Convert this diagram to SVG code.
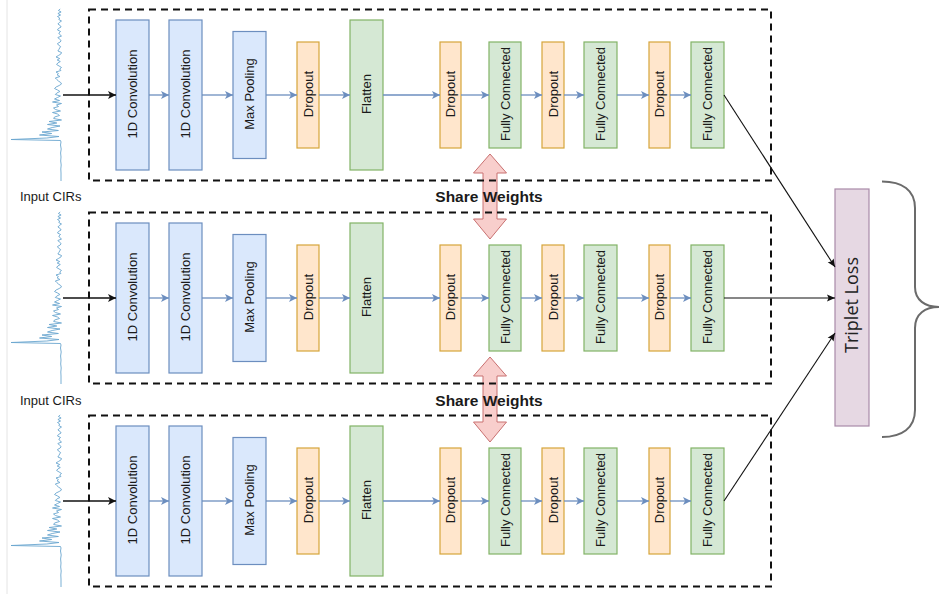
<svg xmlns="http://www.w3.org/2000/svg" xmlns:xlink="http://www.w3.org/1999/xlink" width="940" height="594" viewBox="0 0 940 594">
  <style>
    .blue { fill: #dae8fc; stroke: #6c8ebf; stroke-width: 1.2; }
    .orange { fill: #ffe6cc; stroke: #d6a53a; stroke-width: 1.2; }
    .green { fill: #d5e8d4; stroke: #82b366; stroke-width: 1.2; }
    .lbl { font-family: "Liberation Sans", Arial, sans-serif; font-size: 13px; fill: #1a1a1a; text-anchor: middle; }
    .inlbl { font-family: "Liberation Sans", Arial, sans-serif; font-size: 13px; fill: #1a1a1a; }
    .share { font-family: "Liberation Sans", Arial, sans-serif; font-size: 15.5px; font-weight: bold; fill: #1a1a1a; text-anchor: middle; }
    .frame { fill: none; stroke: #111; stroke-width: 2; stroke-dasharray: 7 5; }
    .flow { stroke: #6c8ebf; stroke-width: 1.3; fill: none; marker-end: url(#blueHead); }
    .feed { stroke: #111; stroke-width: 1.4; fill: none; marker-end: url(#blackHead); }
    .loss { stroke: #111; stroke-width: 1.1; fill: none; marker-end: url(#thinHead); }
    .wave { fill: none; stroke: #6aa6cf; stroke-width: 0.9; stroke-linejoin: round; }
    .shareArrow { fill: #f8cecc; stroke: #c97070; stroke-width: 1; }
  </style>
  <defs>
    <marker id="blueHead" markerUnits="userSpaceOnUse" markerWidth="10" markerHeight="10" refX="9" refY="5" orient="auto">
      <path d="M1,1 L9,5 L1,9 L3,5 z" fill="#6c8ebf"/>
    </marker>
    <marker id="blackHead" markerUnits="userSpaceOnUse" markerWidth="10" markerHeight="10" refX="9" refY="5" orient="auto">
      <path d="M1,1 L9,5 L1,9 L3,5 z" fill="#111"/>
    </marker>
    <marker id="thinHead" markerUnits="userSpaceOnUse" markerWidth="10" markerHeight="10" refX="9" refY="5" orient="auto">
      <path d="M1,1.5 L9,5 L1,8.5 L2.5,5 z" fill="#111"/>
    </marker>
    <!-- channel impulse response trace, y relative to the row centre -->
    <polyline id="cir" class="wave" points="60.2,-86 58.4,-84.5 61.1,-83 57.9,-81.5 60.6,-80 57.5,-78.5 59.7,-77 58.8,-75.5 61.5,-74 59.3,-72.5 57.9,-71 60.2,-69.5 61.1,-68 58.4,-66.5 57.5,-65 60.6,-63.5 58.8,-62 59.7,-60.5 61.5,-59 57.9,-57.5 59.3,-56 61.1,-54.5 60.2,-53 57.5,-51.5 58.4,-50 60.6,-48.5 59.7,-47 58.8,-45.5 57.9,-44 61.5,-42.5 60.9,-41 58.4,-39.5 56,-38 59.7,-36.5 57.2,-35 60.3,-33.5 57.8,-32 56.6,-30.5 59.1,-29 61.5,-27.5 59.7,-26 60.9,-24.5 56,-23 58.4,-21.5 57.2,-20 59.9,-18.5 55.3,-17 56.8,-15.5 58.4,-14 60.7,-12.5 61.5,-11 59.2,-9.5 56.1,-8 54.5,-6.5 57.6,-5 59.9,-3.5 56.8,-2 55.3,-0.5 60.5,1 57.5,2.5 54.5,4 59.5,5.5 52.5,7 61.5,8.5 56.5,10 58.5,11.5 53.5,13 55.5,14.5 60.5,16 52.5,17.5 57.5,19 59.5,20.5 54.5,22 53.7,23.5 61.5,25 49.1,26.5 56.8,28 47.5,29.5 60,31 52.2,32.5 47.5,34 58.4,35.5 42,37 51.7,38.5 39.5,40 59,41.5 46.8,43 11,44.5 60.5,45.5 61,47 60.5,50 61.2,54 60.6,58 61,62 60.7,66 61.2,70 60.8,74 61,78 61,86"/>
  </defs>

  <!-- page edge -->
  <line x1="7" y1="0" x2="7" y2="594" stroke="#e4e4e4" stroke-width="1"/>

  <!-- input traces -->
  <g id="trace-1"><use xlink:href="#cir" href="#cir" transform="translate(0,95)"/></g>
  <g id="trace-2"><use xlink:href="#cir" href="#cir" transform="translate(0,298)"/></g>
  <g id="trace-3"><use xlink:href="#cir" href="#cir" transform="translate(0,501)"/></g>

  <g id="label-input-2"><text class="inlbl" x="20" y="201">Input CIRs</text></g>
  <g id="label-input-3"><text class="inlbl" x="20" y="405">Input CIRs</text></g>

  <!-- weight sharing arrows -->
  <g id="share-1">
    <polygon class="shareArrow" points="490,154 506.5,173 497,173 497,219 506.5,219 490,239 473.5,219 483,219 483,173 473.5,173"/>
  </g>
  <g id="share-2">
    <polygon class="shareArrow" points="490,357 506.5,376 497,376 497,422 506.5,422 490,442 473.5,422 483,422 483,376 473.5,376"/>
  </g>

  <!-- ===== branch 1 ===== -->
  <g id="b1-conv1"><rect class="blue" x="116" y="20" width="33" height="150"/><text class="lbl" transform="translate(132.5,94) rotate(-90)" dy="0.35em">1D Convolution</text></g>
  <g id="b1-conv2"><rect class="blue" x="169" y="20" width="33" height="150"/><text class="lbl" transform="translate(185.5,94) rotate(-90)" dy="0.35em">1D Convolution</text></g>
  <g id="b1-pool"><rect class="blue" x="233" y="31.5" width="33" height="127"/><text class="lbl" transform="translate(249.5,94) rotate(-90)" dy="0.35em">Max Pooling</text></g>
  <g id="b1-drop1"><rect class="orange" x="297" y="42" width="22" height="106"/><text class="lbl" transform="translate(308,94) rotate(-90)" dy="0.35em">Dropout</text></g>
  <g id="b1-flatten"><rect class="green" x="350" y="20" width="33" height="150"/><text class="lbl" transform="translate(366.5,94) rotate(-90)" dy="0.35em">Flatten</text></g>
  <g id="b1-drop2"><rect class="orange" x="440" y="42" width="21" height="106"/><text class="lbl" transform="translate(450.5,94) rotate(-90)" dy="0.35em">Dropout</text></g>
  <g id="b1-fc1"><rect class="green" x="489" y="42" width="32" height="106"/><text class="lbl" transform="translate(505,94) rotate(-90)" dy="0.35em">Fully Connected</text></g>
  <g id="b1-drop3"><rect class="orange" x="542" y="42" width="22" height="106"/><text class="lbl" transform="translate(553,94) rotate(-90)" dy="0.35em">Dropout</text></g>
  <g id="b1-fc2"><rect class="green" x="584" y="42" width="33" height="106"/><text class="lbl" transform="translate(600.5,94) rotate(-90)" dy="0.35em">Fully Connected</text></g>
  <g id="b1-drop4"><rect class="orange" x="649" y="42" width="21" height="106"/><text class="lbl" transform="translate(659.5,94) rotate(-90)" dy="0.35em">Dropout</text></g>
  <g id="b1-fc3"><rect class="green" x="691" y="42" width="33" height="106"/><text class="lbl" transform="translate(707.5,94) rotate(-90)" dy="0.35em">Fully Connected</text></g>

  <!-- ===== branch 2 ===== -->
  <g id="b2-conv1"><rect class="blue" x="116" y="223" width="33" height="150"/><text class="lbl" transform="translate(132.5,297) rotate(-90)" dy="0.35em">1D Convolution</text></g>
  <g id="b2-conv2"><rect class="blue" x="169" y="223" width="33" height="150"/><text class="lbl" transform="translate(185.5,297) rotate(-90)" dy="0.35em">1D Convolution</text></g>
  <g id="b2-pool"><rect class="blue" x="233" y="234.5" width="33" height="127"/><text class="lbl" transform="translate(249.5,297) rotate(-90)" dy="0.35em">Max Pooling</text></g>
  <g id="b2-drop1"><rect class="orange" x="297" y="245" width="22" height="106"/><text class="lbl" transform="translate(308,297) rotate(-90)" dy="0.35em">Dropout</text></g>
  <g id="b2-flatten"><rect class="green" x="350" y="223" width="33" height="150"/><text class="lbl" transform="translate(366.5,297) rotate(-90)" dy="0.35em">Flatten</text></g>
  <g id="b2-drop2"><rect class="orange" x="440" y="245" width="21" height="106"/><text class="lbl" transform="translate(450.5,297) rotate(-90)" dy="0.35em">Dropout</text></g>
  <g id="b2-fc1"><rect class="green" x="489" y="245" width="32" height="106"/><text class="lbl" transform="translate(505,297) rotate(-90)" dy="0.35em">Fully Connected</text></g>
  <g id="b2-drop3"><rect class="orange" x="542" y="245" width="22" height="106"/><text class="lbl" transform="translate(553,297) rotate(-90)" dy="0.35em">Dropout</text></g>
  <g id="b2-fc2"><rect class="green" x="584" y="245" width="33" height="106"/><text class="lbl" transform="translate(600.5,297) rotate(-90)" dy="0.35em">Fully Connected</text></g>
  <g id="b2-drop4"><rect class="orange" x="649" y="245" width="21" height="106"/><text class="lbl" transform="translate(659.5,297) rotate(-90)" dy="0.35em">Dropout</text></g>
  <g id="b2-fc3"><rect class="green" x="691" y="245" width="33" height="106"/><text class="lbl" transform="translate(707.5,297) rotate(-90)" dy="0.35em">Fully Connected</text></g>

  <!-- ===== branch 3 ===== -->
  <g id="b3-conv1"><rect class="blue" x="116" y="426" width="33" height="150"/><text class="lbl" transform="translate(132.5,500) rotate(-90)" dy="0.35em">1D Convolution</text></g>
  <g id="b3-conv2"><rect class="blue" x="169" y="426" width="33" height="150"/><text class="lbl" transform="translate(185.5,500) rotate(-90)" dy="0.35em">1D Convolution</text></g>
  <g id="b3-pool"><rect class="blue" x="233" y="437.5" width="33" height="127"/><text class="lbl" transform="translate(249.5,500) rotate(-90)" dy="0.35em">Max Pooling</text></g>
  <g id="b3-drop1"><rect class="orange" x="297" y="448" width="22" height="106"/><text class="lbl" transform="translate(308,500) rotate(-90)" dy="0.35em">Dropout</text></g>
  <g id="b3-flatten"><rect class="green" x="350" y="426" width="33" height="150"/><text class="lbl" transform="translate(366.5,500) rotate(-90)" dy="0.35em">Flatten</text></g>
  <g id="b3-drop2"><rect class="orange" x="440" y="448" width="21" height="106"/><text class="lbl" transform="translate(450.5,500) rotate(-90)" dy="0.35em">Dropout</text></g>
  <g id="b3-fc1"><rect class="green" x="489" y="448" width="32" height="106"/><text class="lbl" transform="translate(505,500) rotate(-90)" dy="0.35em">Fully Connected</text></g>
  <g id="b3-drop3"><rect class="orange" x="542" y="448" width="22" height="106"/><text class="lbl" transform="translate(553,500) rotate(-90)" dy="0.35em">Dropout</text></g>
  <g id="b3-fc2"><rect class="green" x="584" y="448" width="33" height="106"/><text class="lbl" transform="translate(600.5,500) rotate(-90)" dy="0.35em">Fully Connected</text></g>
  <g id="b3-drop4"><rect class="orange" x="649" y="448" width="21" height="106"/><text class="lbl" transform="translate(659.5,500) rotate(-90)" dy="0.35em">Dropout</text></g>
  <g id="b3-fc3"><rect class="green" x="691" y="448" width="33" height="106"/><text class="lbl" transform="translate(707.5,500) rotate(-90)" dy="0.35em">Fully Connected</text></g>

  <!-- loss node -->
  <g id="triplet-loss">
    <rect x="835" y="189" width="34" height="237" fill="#e6d8e3" stroke="#a98aa8" stroke-width="1.2"/>
    <text transform="translate(852,305) rotate(-90)" dy="0.35em" text-anchor="middle" font-family="'Open Sans', 'Liberation Sans', sans-serif" font-size="18" fill="#222">Triplet Loss</text>
  </g>
  <g id="brace">
    <path d="M882,181.5 C902,181.5 915,190 915,208 L915,287 C915,300 925,307 939,307 C925,307 915,314 915,328 L915,410 C915,428 902,437 882,437" fill="none" stroke="#6b6b6b" stroke-width="2"/>
  </g>

  <!-- connectors -->
  <g id="connectors">
    <!-- branch 1 -->
    <line class="feed" x1="63" y1="95" x2="116" y2="95"/>
    <line class="flow" x1="149" y1="95" x2="169" y2="95"/>
    <line class="flow" x1="202" y1="95" x2="233" y2="95"/>
    <line class="flow" x1="266" y1="95" x2="297" y2="95"/>
    <line class="flow" x1="319" y1="95" x2="350" y2="95"/>
    <line class="flow" x1="383" y1="95" x2="440" y2="95"/>
    <line class="flow" x1="461" y1="95" x2="489" y2="95"/>
    <line class="flow" x1="521" y1="95" x2="542" y2="95"/>
    <line class="flow" x1="564" y1="95" x2="584" y2="95"/>
    <line class="flow" x1="617" y1="95" x2="649" y2="95"/>
    <line class="flow" x1="670" y1="95" x2="691" y2="95"/>
    <!-- branch 2 -->
    <line class="feed" x1="63" y1="298" x2="116" y2="298"/>
    <line class="flow" x1="149" y1="298" x2="169" y2="298"/>
    <line class="flow" x1="202" y1="298" x2="233" y2="298"/>
    <line class="flow" x1="266" y1="298" x2="297" y2="298"/>
    <line class="flow" x1="319" y1="298" x2="350" y2="298"/>
    <line class="flow" x1="383" y1="298" x2="440" y2="298"/>
    <line class="flow" x1="461" y1="298" x2="489" y2="298"/>
    <line class="flow" x1="521" y1="298" x2="542" y2="298"/>
    <line class="flow" x1="564" y1="298" x2="584" y2="298"/>
    <line class="flow" x1="617" y1="298" x2="649" y2="298"/>
    <line class="flow" x1="670" y1="298" x2="691" y2="298"/>
    <!-- branch 3 -->
    <line class="feed" x1="63" y1="501" x2="116" y2="501"/>
    <line class="flow" x1="149" y1="501" x2="169" y2="501"/>
    <line class="flow" x1="202" y1="501" x2="233" y2="501"/>
    <line class="flow" x1="266" y1="501" x2="297" y2="501"/>
    <line class="flow" x1="319" y1="501" x2="350" y2="501"/>
    <line class="flow" x1="383" y1="501" x2="440" y2="501"/>
    <line class="flow" x1="461" y1="501" x2="489" y2="501"/>
    <line class="flow" x1="521" y1="501" x2="542" y2="501"/>
    <line class="flow" x1="564" y1="501" x2="584" y2="501"/>
    <line class="flow" x1="617" y1="501" x2="649" y2="501"/>
    <line class="flow" x1="670" y1="501" x2="691" y2="501"/>
    <!-- embeddings into the loss -->
    <line class="loss" x1="724" y1="95" x2="835" y2="267"/>
    <line class="loss" x1="724" y1="298" x2="835" y2="298"/>
    <line class="loss" x1="724" y1="501" x2="835" y2="333"/>
  </g>

  <!-- branch frames -->
  <g id="frame-1"><rect class="frame" x="89" y="9.5" width="682" height="171"/></g>
  <g id="frame-2"><rect class="frame" x="89" y="212.5" width="682" height="171"/></g>
  <g id="frame-3"><rect class="frame" x="89" y="415.5" width="682" height="171"/></g>

  <g id="label-share-1"><text class="share" x="489" y="202">Share Weights</text></g>
  <g id="label-share-2"><text class="share" x="489" y="406">Share Weights</text></g>
</svg>
